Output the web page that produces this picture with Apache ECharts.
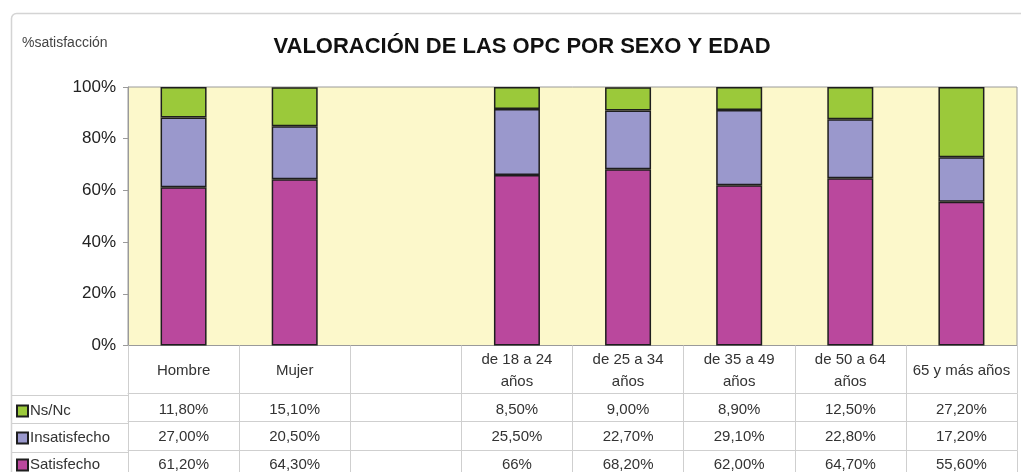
<!DOCTYPE html>
<html>
<head>
<meta charset="utf-8">
<script src="https://cdn.jsdelivr.net/npm/echarts@6/dist/echarts.min.js"></script>
<style>
  html, body { margin: 0; padding: 0; background: #fff; }
  #chart { width: 1021px; height: 472px; }
</style>
</head>
<body>
<div id="chart"></div>
<script>
// categorias (la tercera columna esta vacia en el original)
var categorias = ['Hombre', 'Mujer', '', 'de 18 a 24\naños', 'de 25 a 34\naños', 'de 35 a 49\naños', 'de 50 a 64\naños', '65 y más años'];

// valores en %
var satisfecho = [61.2, 64.3, null, 66, 68.2, 62.0, 64.7, 55.6];
var insatisfecho = [27.0, 20.5, null, 25.5, 22.7, 29.1, 22.8, 17.2];
var nsnc = [11.8, 15.1, null, 8.5, 9.0, 8.9, 12.5, 27.2];

// textos de la tabla de datos
var txtNsnc = ['11,80%', '15,10%', '', '8,50%', '9,00%', '8,90%', '12,50%', '27,20%'];
var txtInsatisfecho = ['27,00%', '20,50%', '', '25,50%', '22,70%', '29,10%', '22,80%', '17,20%'];
var txtSatisfecho = ['61,20%', '64,30%', '', '66%', '68,20%', '62,00%', '64,70%', '55,60%'];

var yTicks = [0, 20, 40, 60, 80, 100];

var chartDom = document.getElementById('chart');
var myChart = echarts.init(chartDom);
var option;

var fuente = 'Arial, "Liberation Sans", sans-serif';
var lineaTabla = '#cfcfcf';

// eje de fila de la tabla (debajo del grafico)
function filaTabla(textos, offset, margen) {
    return {
        type: 'category',
        gridIndex: 0,
        position: 'bottom',
        offset: offset,
        data: categorias,
        axisLine: { show: true, lineStyle: { color: lineaTabla, width: 1 } },
        axisTick: { show: true, interval: 0, length: 29, lineStyle: { color: lineaTabla } },
        axisLabel: {
            interval: 0,
            hideOverlap: false,
            margin: margen,
            verticalAlign: 'middle',
            fontSize: 15,
            fontFamily: fuente,
            color: '#333',
            formatter: function (v, i) { return textos[i]; }
        },
        splitLine: { show: false }
    };
}

option = {
    animation: false,
    backgroundColor: '#fff',
    title: [
        {
            text: 'VALORACIÓN DE LAS OPC POR SEXO Y EDAD',
            left: 522,
            top: 36,
            padding: 0,
            textAlign: 'center',
            textStyle: {
                fontFamily: 'Arial, "Liberation Sans", sans-serif',
                fontWeight: 'bold',
                fontSize: 22,
                color: '#111'
            }
        },
        {
            text: '%satisfacción',
            left: 22,
            top: 36,
            padding: 0,
            textStyle: { fontFamily: fuente, fontWeight: 'normal', fontSize: 14, color: '#444' }
        }
    ],
    legend: {
        data: ['Ns/Nc', 'Insatisfecho', 'Satisfecho'],
        orient: 'vertical',
        left: 16,
        top: 403,
        height: 120,
        padding: 0,
        itemWidth: 11,
        itemHeight: 11,
        itemGap: 11,
        icon: 'rect',
        selectedMode: false,
        textStyle: { fontSize: 15, fontFamily: fuente, color: '#333', lineHeight: 16, padding: [0, 0, 0, -3] }
    },
    grid: {
        left: 128,
        right: 4,
        top: 87,
        bottom: 125,
        show: true,
        backgroundColor: '#FCF8CB',
        borderColor: '#9a9a9a',
        borderWidth: 1
    },
    xAxis: [
        {
            type: 'category',
            gridIndex: 0,
            position: 'bottom',
            data: categorias,
            axisLine: { show: true, lineStyle: { color: '#9a9a9a', width: 1 } },
            axisTick: { show: true, interval: 0, length: 48, lineStyle: { color: lineaTabla } },
            axisLabel: {
                interval: 0,
                hideOverlap: false,
                margin: 25,
                verticalAlign: 'middle',
                lineHeight: 22,
                fontSize: 15,
                fontFamily: fuente,
                color: '#333'
            },
            splitLine: { show: false }
        },
        filaTabla(txtNsnc, 48, 16),
        filaTabla(txtInsatisfecho, 76, 15),
        filaTabla(txtSatisfecho, 105, 14)
    ],
    yAxis: {
        type: 'value',
        min: yTicks[0],
        max: yTicks[yTicks.length - 1],
        interval: 20,
        axisLine: { show: true, lineStyle: { color: '#9a9a9a' } },
        axisTick: { show: true, length: 5, lineStyle: { color: '#9a9a9a' } },
        axisLabel: { formatter: '{value}%', fontSize: 17, fontFamily: fuente, color: '#222', margin: 12 },
        splitLine: { show: false }
    },
    series: [
        {
            name: 'Satisfecho',
            type: 'bar',
            stack: 'total',
            barWidth: 46,
            data: satisfecho,
            itemStyle: { color: '#BA489D', borderColor: '#1e1e1e', borderWidth: 1.5 }
        },
        {
            name: 'Insatisfecho',
            type: 'bar',
            stack: 'total',
            barWidth: 46,
            data: insatisfecho,
            itemStyle: { color: '#9A98CC', borderColor: '#1e1e1e', borderWidth: 1.5 }
        },
        {
            name: 'Ns/Nc',
            type: 'bar',
            stack: 'total',
            barWidth: 46,
            data: nsnc,
            itemStyle: { color: '#9BC93A', borderColor: '#1e1e1e', borderWidth: 1.5 }
        }
    ],
    graphic: [
        // marco exterior
        {
            type: 'rect',
            shape: { x: 11.5, y: 13.5, width: 1040, height: 500, r: 5 },
            style: { fill: null, stroke: '#d4d4d4', lineWidth: 1.5 },
            silent: true
        },
        // lineas de la columna de leyenda
        { type: 'line', shape: { x1: 12, y1: 395.5, x2: 128, y2: 395.5 }, style: { stroke: lineaTabla, lineWidth: 1 }, silent: true },
        { type: 'line', shape: { x1: 12, y1: 423.5, x2: 128, y2: 423.5 }, style: { stroke: lineaTabla, lineWidth: 1 }, silent: true },
        { type: 'line', shape: { x1: 12, y1: 452.5, x2: 128, y2: 452.5 }, style: { stroke: lineaTabla, lineWidth: 1 }, silent: true }
    ]
};

myChart.setOption(option);
</script>
</body>
</html>
